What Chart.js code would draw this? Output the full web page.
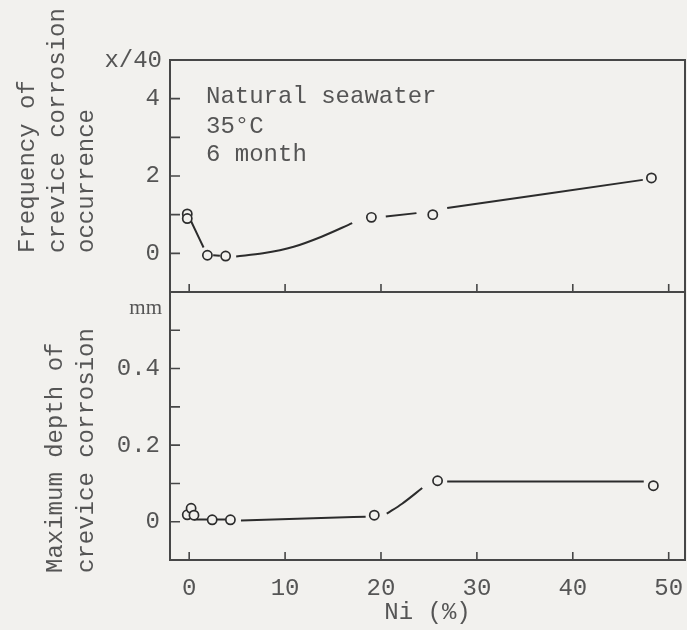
<!DOCTYPE html>
<html>
<head>
<meta charset="utf-8">
<script src="https://cdn.jsdelivr.net/npm/chart.js@4.4.1/dist/chart.umd.min.js"></script>
<style>
  html, body { margin: 0; padding: 0; background: #f2f1ee; }
  #wrap { position: relative; width: 687px; height: 630px; }
  canvas { position: absolute; left: 0; top: 0; }
</style>
</head>
<body>
<div id="wrap">
  <canvas id="freqChart" width="687" height="630"></canvas>
  <canvas id="depthChart" width="687" height="630"></canvas>
</div>
<script>
// shared x axis, Ni content (%)
const niTicks = [0, 10, 20, 30, 40, 50];

// upper panel: frequency of crevice corrosion occurrence (x/40)
const freqNi = [-0.2, -0.2, 1.9, 3.8, 19.0, 25.4, 48.2];
const freqCount = [1.02, 0.9, -0.05, -0.07, 0.93, 1.0, 1.95];
const freqLabelTicks = [0, 2, 4];
const freqMarkTicks = [0, 1, 2, 3, 4];
// line pieces between the circles, as drawn
const freqLines = [
  [[0.2, 0.83], [1.5, 0.15]],
  [[2.5, -0.05], [3.2, -0.06]],
  [[4.9, -0.08], [7.7, 0.0], [10.9, 0.17], [13.8, 0.43], [17.0, 0.78]],
  [[20.5, 0.95], [23.7, 1.04]],
  [[26.9, 1.17], [47.3, 1.9]]
];

// lower panel: maximum depth of crevice corrosion (mm)
const depthNi = [-0.2, 0.2, 0.5, 2.4, 4.3, 19.3, 25.9, 48.4];
const depthMm = [0.018, 0.035, 0.017, 0.005, 0.005, 0.017, 0.107, 0.094];
const depthLabelTicks = [0, 0.2, 0.4];
const depthMarkTicks = [0, 0.1, 0.2, 0.3, 0.4, 0.5];
const depthLines = [
  [[0.5, 0.006], [4.3, 0.006]],
  [[5.4, 0.003], [18.4, 0.013]],
  [[20.6, 0.021], [22.2, 0.047], [24.3, 0.088]],
  [[26.9, 0.105], [47.4, 0.105]]
];

const bg = '#f2f1ee';
const ink = '#2c2c2c';
const grey = '#555555';
const mono = '"Liberation Mono", "DejaVu Sans Mono", monospace';

// frame, inward tick marks and free text
const framePlugin = {
  id: 'frame',
  afterDraw(chart, args, opts) {
    const { ctx, chartArea: a, scales } = chart;
    ctx.save();
    ctx.strokeStyle = '#474747';
    ctx.lineWidth = 2;
    ctx.strokeRect(a.left, a.top, a.right - a.left, a.bottom - a.top);
    ctx.lineWidth = 1.6;
    ctx.beginPath();
    opts.xMarks.forEach(v => {
      const px = scales.x.getPixelForValue(v);
      ctx.moveTo(px, a.bottom);
      ctx.lineTo(px, a.bottom - 8);
    });
    opts.yMarks.forEach(v => {
      const py = scales.y.getPixelForValue(v);
      ctx.moveTo(a.left, py);
      ctx.lineTo(a.left + 10, py);
    });
    ctx.stroke();
    ctx.fillStyle = grey;
    opts.texts.forEach(t => {
      ctx.save();
      ctx.font = t.font || '24px ' + mono;
      ctx.textAlign = t.align || 'left';
      ctx.textBaseline = 'alphabetic';
      ctx.translate(t.x, t.y);
      if (t.rot) ctx.rotate(-Math.PI / 2);
      ctx.fillText(t.text, 0, 0);
      ctx.restore();
    });
    ctx.restore();
  }
};

function toPts(xs, ys) {
  return xs.map((x, i) => ({ x: x, y: ys[i] }));
}

function buildDatasets(xs, ys, pieces) {
  const sets = [{
    data: toPts(xs, ys),
    showLine: false,
    pointRadius: 4.6,
    pointBorderWidth: 1.7,
    pointBorderColor: ink,
    pointBackgroundColor: bg,
    order: 0
  }];
  pieces.forEach(p => {
    sets.push({
      data: p.map(q => ({ x: q[0], y: q[1] })),
      showLine: true,
      borderColor: ink,
      borderWidth: 2,
      pointRadius: 0,
      cubicInterpolationMode: 'monotone',
      order: 1
    });
  });
  return sets;
}

function setTicks(values) {
  return scale => { scale.ticks = values.map(v => ({ value: v })); };
}

Chart.defaults.font.family = mono;
Chart.defaults.font.size = 24;
Chart.defaults.color = grey;

new Chart(document.getElementById('freqChart'), {
  type: 'scatter',
  data: { datasets: buildDatasets(freqNi, freqCount, freqLines) },
  options: {
    responsive: false,
    animation: false,
    events: [],
    layout: { autoPadding: false, padding: { top: 60, bottom: 338, left: 0, right: 2 } },
    plugins: {
      legend: { display: false },
      tooltip: { enabled: false },
      frame: {
        xMarks: niTicks,
        yMarks: freqMarkTicks,
        texts: [
          { text: 'Frequency of', x: 34, y: 253, rot: true },
          { text: 'crevice corrosion', x: 64, y: 253, rot: true },
          { text: 'occurrence', x: 93, y: 253, rot: true },
          { text: 'x/40', x: 162, y: 67, align: 'right' },
          { text: 'Natural seawater', x: 206, y: 103 },
          { text: '35°C', x: 206, y: 133 },
          { text: '6 month', x: 206, y: 161 }
        ]
      }
    },
    scales: {
      x: {
        type: 'linear', min: -2, max: 51.7, display: false,
        afterBuildTicks: setTicks(niTicks)
      },
      y: {
        min: -1, max: 5,
        grid: { display: false, drawTicks: false },
        border: { display: false },
        ticks: { padding: 10 },
        afterBuildTicks: setTicks(freqLabelTicks),
        afterFit: scale => { scale.width = 170; }
      }
    }
  },
  plugins: [framePlugin]
});

new Chart(document.getElementById('depthChart'), {
  type: 'scatter',
  data: { datasets: buildDatasets(depthNi, depthMm, depthLines) },
  options: {
    responsive: false,
    animation: false,
    events: [],
    layout: { autoPadding: false, padding: { top: 292, bottom: 0, left: 0, right: 2 } },
    plugins: {
      legend: { display: false },
      tooltip: { enabled: false },
      frame: {
        xMarks: niTicks,
        yMarks: depthMarkTicks,
        texts: [
          { text: 'Maximum depth of', x: 62, y: 573, rot: true },
          { text: 'crevice corrosion', x: 93, y: 573, rot: true },
          { text: 'mm', x: 162, y: 314, align: 'right', font: '21px "Liberation Serif", serif' }
        ]
      }
    },
    scales: {
      x: {
        type: 'linear', min: -2, max: 51.7,
        grid: { display: false, drawTicks: false },
        border: { display: false },
        ticks: { padding: 14 },
        title: { display: true, text: 'Ni (%)', padding: { top: 0, bottom: 3 } },
        afterBuildTicks: setTicks(niTicks),
        afterFit: scale => {
          scale.height = 70;
          scale.paddingLeft = 0;
          scale.paddingRight = 0;
        }
      },
      y: {
        min: -0.1, max: 0.6,
        grid: { display: false, drawTicks: false },
        border: { display: false },
        ticks: { padding: 10 },
        afterBuildTicks: setTicks(depthLabelTicks),
        afterFit: scale => { scale.width = 170; }
      }
    }
  },
  plugins: [framePlugin]
});
</script>
</body>
</html>
